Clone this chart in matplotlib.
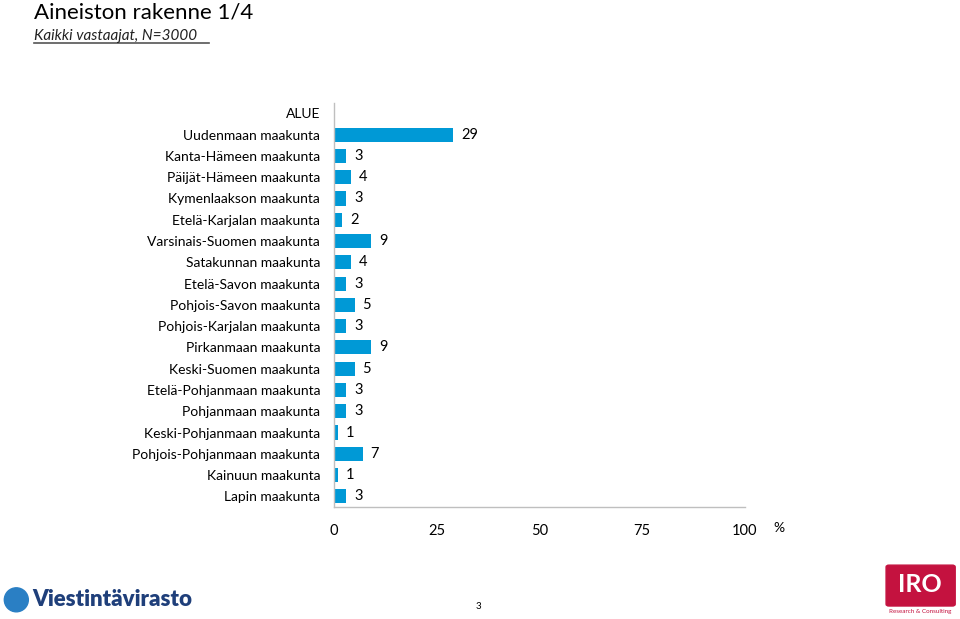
import matplotlib.pyplot as plt
from matplotlib.patches import FancyBboxPatch, Ellipse

# data
header = "ALUE"
regions = ["Uudenmaan maakunta", "Kanta-Hämeen maakunta", "Päijät-Hämeen maakunta",
           "Kymenlaakson maakunta", "Etelä-Karjalan maakunta", "Varsinais-Suomen maakunta",
           "Satakunnan maakunta", "Etelä-Savon maakunta", "Pohjois-Savon maakunta",
           "Pohjois-Karjalan maakunta", "Pirkanmaan maakunta", "Keski-Suomen maakunta",
           "Etelä-Pohjanmaan maakunta", "Pohjanmaan maakunta", "Keski-Pohjanmaan maakunta",
           "Pohjois-Pohjanmaan maakunta", "Kainuun maakunta", "Lapin maakunta"]
values = [29, 3, 4, 3, 2, 9, 4, 3, 5, 3, 9, 5, 3, 3, 1, 7, 1, 3]
xticks = [0, 25, 50, 75, 100]

plt.rcParams['font.family'] = ['Lato', 'DejaVu Sans']
blue = '#0099D6'
grey = '#BFBFBF'

fig = plt.figure(figsize=(9.6, 6.19), dpi=100)
ax = fig.add_axes([0.348, 0.181, 0.428, 0.653])

labels = [header] + regions
ypos = list(range(len(labels)))
ax.barh(ypos[1:], values, height=0.66, color=blue)
for y, v in zip(ypos[1:], values):
    ax.text(v + 1.9, y, str(v), va='center', ha='left', fontsize=10.5, color='black')

ax.set_ylim(len(labels) - 0.5, -0.5)
ax.set_xlim(0, 100)
ax.set_yticks(ypos)
ax.set_yticklabels(labels, fontsize=10)
ax.set_xticks(xticks)
ax.set_xticklabels([str(t) for t in xticks], fontsize=10.5)
ax.tick_params(axis='both', length=0)
ax.tick_params(axis='y', pad=10)
ax.tick_params(axis='x', pad=12)
for s in ['top', 'right']:
    ax.spines[s].set_visible(False)
for s in ['left', 'bottom']:
    ax.spines[s].set_color(grey)
    ax.spines[s].set_linewidth(1)
fig.text(0.806, 0.147, '%', fontsize=10, ha='left', va='center')

# title block
fig.text(0.035, 0.980, 'Aineiston rakenne 1/4', fontsize=16, va='center', ha='left')
fig.text(0.035, 0.942, 'Kaikki vastaajat, N=3000', fontsize=11, style='italic',
         va='center', ha='left', color='#222222')
fig.add_artist(plt.Line2D([0.035, 0.218], [0.930, 0.930], color='#555555', lw=1.2))

# page number
fig.text(0.498, 0.021, '3', fontsize=7, ha='center', va='center')

# Viestintävirasto logo
fig.add_artist(Ellipse((0.017, 0.031), 24 / 960, 24 / 619, transform=fig.transFigure,
                       color='#2A7FC4'))
fig.text(0.034, 0.031, 'Viestintävirasto', fontsize=16, fontweight='heavy',
         color='#1F3F7A', va='center', ha='left')

# IRO logo
fig.add_artist(FancyBboxPatch((0.926, 0.024), 0.066, 0.060,
                              boxstyle='round,pad=0.003', transform=fig.transFigure,
                              color='#C4123F'))
fig.text(0.958, 0.056, 'IRO', fontsize=18, fontweight='bold', color='white',
         ha='center', va='center')
fig.text(0.959, 0.012, 'Research & Consulting', fontsize=4.5, color='#C4123F',
         ha='center', va='center')

fig.savefig('out.png', dpi=100)
